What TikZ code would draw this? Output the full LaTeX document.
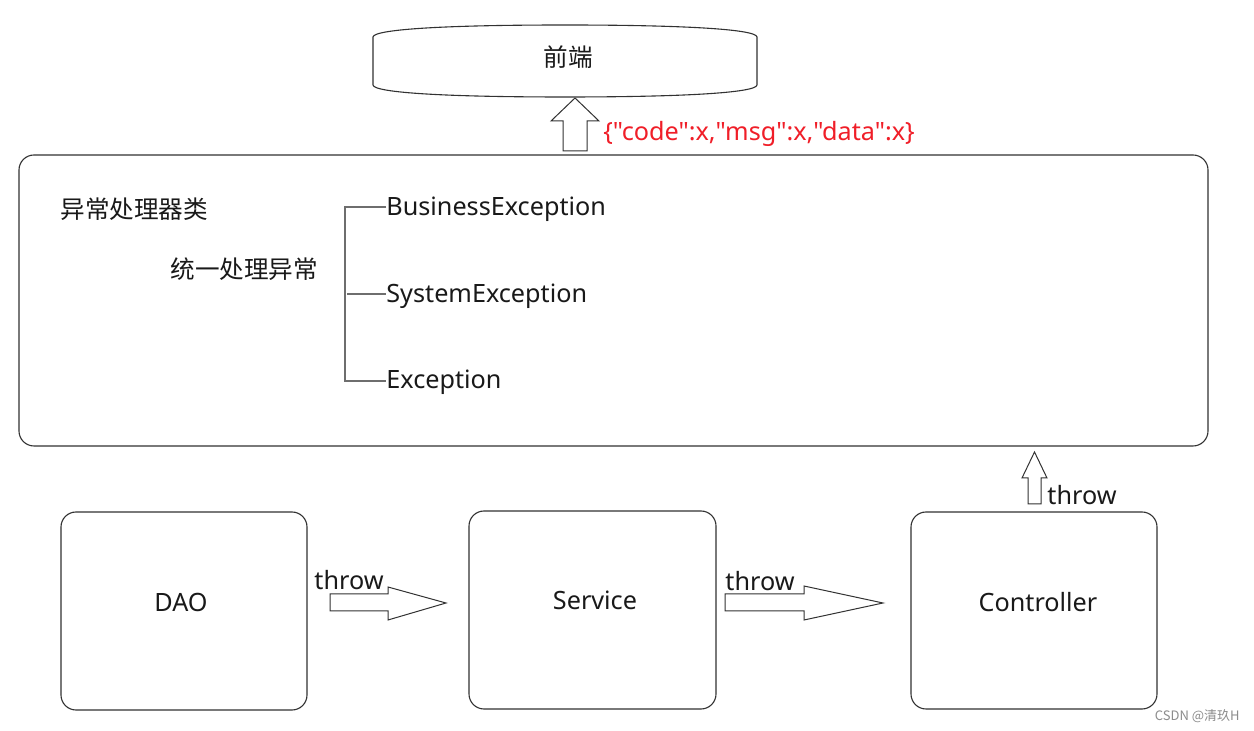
\documentclass[tikz,border=0pt]{standalone}
\usepackage{fontspec}
\setmainfont{Noto Sans CJK SC}
\newfontfamily\latinf{Noto Sans}
\usetikzlibrary{calc}
\definecolor{edge}{RGB}{50,50,50}
\definecolor{brk}{RGB}{110,110,110}
\definecolor{jsonred}{RGB}{240,30,40}
\tikzset{
  x=0.5pt, y=-0.5pt,
  box/.style={draw=edge, line width=0.55pt, rounded corners=7.5pt, inner sep=0pt},
  lbl/.style={font=\fontsize{12.3}{14}\selectfont, inner sep=0pt, text=black!90},
  lat/.style={font=\fontsize{12.6}{15}\selectfont\latinf, inner sep=0pt, text=black!90},
  blockarrow/.style={draw=edge, line width=0.5pt, fill=white, line join=miter},
  bracket/.style={draw=brk, line width=0.9pt},
}
\begin{document}
\begin{tikzpicture}
\useasboundingbox[fill=white] (0,0) rectangle (1254,731);

% top node (front end)
\draw[edge, line width=0.55pt]
  (373,37) -- (373,85)
  .. controls (374,93) and (450,97) .. (565,97)
  .. controls (680,97) and (756,93) .. (757,85)
  -- (757,37)
  .. controls (756,29) and (680,25) .. (565,25)
  .. controls (450,25) and (374,29) .. (373,37) -- cycle;
\node[lbl] (fe) at (568,57) {前端};

% big handler box
\node[box, minimum width=594.5pt, minimum height=145.5pt] (handler) at (613.5,300.5) {};
\node[lbl, anchor=west] (cls) at (60,209) {异常处理器类};
\node[lbl, anchor=west] (uni) at (170,269) {统一处理异常};
\node[lat, anchor=west] (be) at (386,209) {BusinessException};
\node[lat, anchor=west] (se) at (386,296) {SystemException};
\node[lat, anchor=west] (ex) at (386,382) {Exception};
\coordinate (btop) at (345,207);
\coordinate (bmid) at (347,294);
\coordinate (bbot) at (345,381);
\draw[bracket] (be.west |- btop) -- (btop) -- (bbot) -- (ex.west |- bbot);
\draw[bracket] (bmid) -- (se.west |- bmid);

% up arrow to front end + json
\draw[blockarrow] (563,151) -- (563,121) -- (551,121) -- (575,98) -- (599,121) -- (587,121) -- (587,151) -- cycle;
\node[lat, anchor=west, text=jsonred] (json) at (603,134) {\{"code":x,"msg":x,"data":x\}};

% bottom boxes
\node[box, minimum width=123pt, minimum height=99pt] (dao) at (184,611) {};
\node[box, minimum width=123.5pt, minimum height=99pt] (svc) at (592.5,610) {};
\node[box, minimum width=123pt, minimum height=98.5pt] (ctl) at (1034,610.5) {};
\node[lat] (daot) at (181,602) {DAO};
\node[lat] (svct) at (595,600) {Service};
\node[lat] (ctlt) at (1038,602) {Controller};

% block arrows
\draw[blockarrow] (330,594) -- (388,594) -- (388,587) -- (446,603) -- (388,620) -- (388,611) -- (330,611) -- cycle;
\node[lat] (t1) at (349,580) {throw};
\draw[blockarrow] (725,594) -- (804,594) -- (804,586) -- (883,603) -- (804,620) -- (804,611) -- (725,611) -- cycle;
\node[lat] (t2) at (760,581) {throw};
\draw[blockarrow] (1028,504) -- (1028,478) -- (1022,478) -- (1034.5,452) -- (1047,478) -- (1041,478) -- (1041,504) -- cycle;
\node[lat, anchor=west] (t3) at (1047,495) {throw};

% watermark
\node[font=\fontsize{6.5}{8}\selectfont, text=black!45, anchor=east, inner sep=0pt] (wm) at (1240,716) {CSDN @清玖H};
\end{tikzpicture}
\end{document}
